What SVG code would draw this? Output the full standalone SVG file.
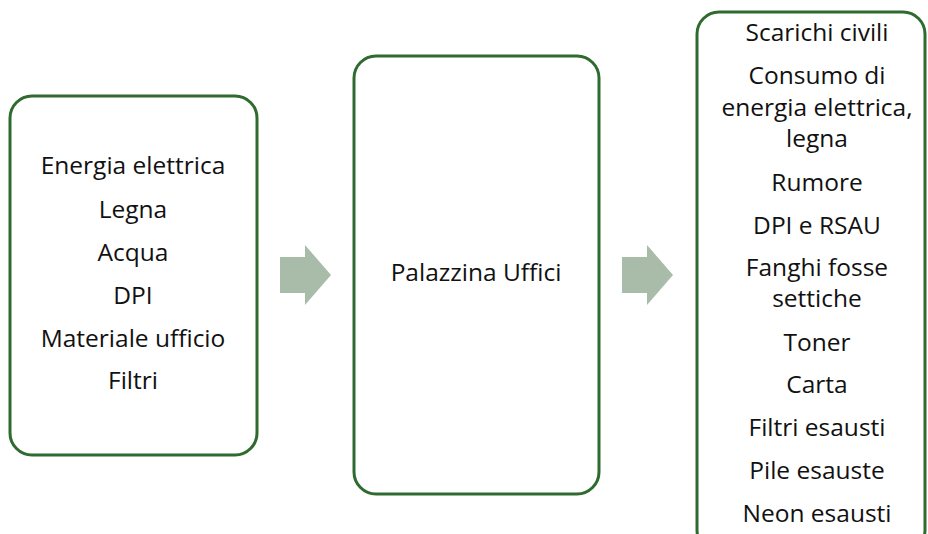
<svg xmlns="http://www.w3.org/2000/svg" width="928" height="534" viewBox="0 0 928 534">
  <style>
    .box { fill: #ffffff; stroke: #2f6b2f; stroke-width: 3; }
    .arrow { fill: #a9bca9; stroke: none; }
    text { font-family: "Open Sans", "Liberation Sans", sans-serif; font-size: 24.5px; fill: #111111; text-anchor: middle; }
  </style>
  <rect width="928" height="534" fill="#ffffff"/>

  <g id="connectors">
    <polygon class="arrow" points="280,257 305,257 305,245 331,275 305,305 305,293 280,293"/>
    <polygon class="arrow" points="622,257 647,257 647,245 673,275 647,305 647,293 622,293"/>
  </g>

  <g id="inputs">
    <rect class="box" x="10" y="96" width="247" height="359" rx="22"/>
    <text x="133" y="174">Energia elettrica</text>
    <text x="133" y="218">Legna</text>
    <text x="133" y="261">Acqua</text>
    <text x="133" y="304">DPI</text>
    <text x="133" y="347">Materiale ufficio</text>
    <text x="133" y="389">Filtri</text>
  </g>

  <g id="process">
    <rect class="box" x="354" y="56" width="245" height="438" rx="22"/>
    <text x="476" y="281">Palazzina Uffici</text>
  </g>

  <g id="outputs">
    <rect class="box" x="697" y="12" width="228" height="540" rx="22"/>
    <text x="817" y="41">Scarichi civili</text>
    <text x="817" y="84">Consumo di</text>
    <text x="817" y="116">energia elettrica,</text>
    <text x="817" y="147">legna</text>
    <text x="817" y="191">Rumore</text>
    <text x="817" y="234">DPI e RSAU</text>
    <text x="817" y="276">Fanghi fosse</text>
    <text x="817" y="307">settiche</text>
    <text x="817" y="351">Toner</text>
    <text x="817" y="393">Carta</text>
    <text x="817" y="436">Filtri esausti</text>
    <text x="817" y="479">Pile esauste</text>
    <text x="817" y="522">Neon esausti</text>
  </g>
</svg>
